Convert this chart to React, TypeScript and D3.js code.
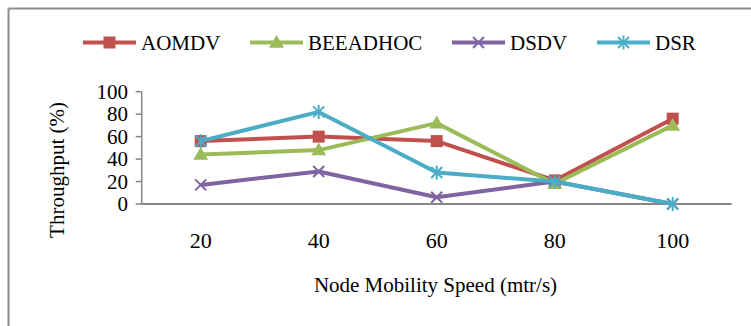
import React from "react";
import * as d3 from "d3";

const categories = ["20", "40", "60", "80", "100"];
const aomdv = [56, 60, 56, 21, 76];
const beeadhoc = [44, 48, 72, 18, 70];
const dsdv = [17, 29, 6, 20, 0];
const dsr = [56, 82, 28, 20, 0];
const yTicks = [0, 20, 40, 60, 80, 100];

const seriesNames = ["AOMDV", "BEEADHOC", "DSDV", "DSR"];
const seriesColors = ["#C0504D", "#9BBB59", "#8064A2", "#4BACC6"];
const seriesMarkers = ["square", "triangle", "x", "star"];
const seriesValues = [aomdv, beeadhoc, dsdv, dsr];

const W = 751;
const H = 326;
const plotLeft = 141.7;
const plotRight = 731.7;
const plotTop = 91.7;
const plotBottom = 204;
const legendX = [83, 250, 452, 597];
const legendY = 42.5;
const FONT = "Liberation Serif";
const AXIS = "#868686";

function Marker({ kind, x, y, color }: { kind: string; x: number; y: number; color: string }) {
  if (kind === "square") {
    return <rect x={x - 6} y={y - 6} width={12} height={12} fill={color} />;
  }
  if (kind === "triangle") {
    const p = d3.symbol().type(d3.symbolTriangle).size(95)();
    return <path d={p || ""} transform={`translate(${x},${y + 1})`} fill={color} />;
  }
  if (kind === "x") {
    const s = 5.5;
    return (
      <g stroke={color} strokeWidth={2}>
        <line x1={x - s} y1={y - s} x2={x + s} y2={y + s} />
        <line x1={x - s} y1={y + s} x2={x + s} y2={y - s} />
      </g>
    );
  }
  const s = 5.5;
  return (
    <g stroke={color} strokeWidth={2}>
      <line x1={x - s} y1={y - s} x2={x + s} y2={y + s} />
      <line x1={x - s} y1={y + s} x2={x + s} y2={y - s} />
      <line x1={x} y1={y - s - 1.5} x2={x} y2={y + s + 1.5} />
    </g>
  );
}

export default function App() {
  const x = d3.scaleBand<string>().domain(categories).range([plotLeft, plotRight]);
  const y = d3.scaleLinear().domain([0, 100]).range([plotBottom, plotTop]);
  const cx = (c: string) => (x(c) || 0) + x.bandwidth() / 2;
  const line = d3
    .line<number>()
    .x((_, i) => cx(categories[i]))
    .y((v) => y(v));

  return (
    <svg
      width={W}
      height={H}
      style={{ position: "absolute", left: 0, top: 0, background: "#fff" }}
    >
      <rect x={0} y={0} width={W} height={H} fill="#fff" />
      {/* frame */}
      <line x1={8.5} y1={8.5} x2={W} y2={8.5} stroke="#8c8c8c" strokeWidth={2} />
      <line x1={8.5} y1={8.5} x2={8.5} y2={H} stroke="#8c8c8c" strokeWidth={2} />

      {/* legend */}
      {seriesNames.map((name, i) => (
        <g key={name}>
          <line
            x1={legendX[i]}
            x2={legendX[i] + 53}
            y1={legendY}
            y2={legendY}
            stroke={seriesColors[i]}
            strokeWidth={4}
          />
          <Marker kind={seriesMarkers[i]} x={legendX[i] + 26.5} y={legendY} color={seriesColors[i]} />
          <text x={legendX[i] + 58} y={legendY + 7.5} fontSize={21} fontFamily={FONT} fill="#000">
            {name}
          </text>
        </g>
      ))}

      {/* y axis */}
      <line x1={plotLeft} x2={plotLeft} y1={plotTop} y2={plotBottom} stroke={AXIS} strokeWidth={1.5} />
      {yTicks.map((t) => (
        <g key={t}>
          <line x1={plotLeft - 6} x2={plotLeft} y1={y(t)} y2={y(t)} stroke={AXIS} strokeWidth={1.5} />
          <text x={128} y={y(t) + 7} fontSize={21} fontFamily={FONT} textAnchor="end" fill="#000">
            {t}
          </text>
        </g>
      ))}
      {/* x axis */}
      <line x1={plotLeft} x2={plotRight} y1={plotBottom} y2={plotBottom} stroke={AXIS} strokeWidth={2} />
      {categories.map((c) => (
        <text key={c} x={cx(c)} y={247.5} fontSize={22} fontFamily={FONT} textAnchor="middle" fill="#000">
          {c}
        </text>
      ))}

      {/* axis titles */}
      <text x={435.5} y={291.5} fontSize={21} fontFamily={FONT} textAnchor="middle" fill="#000">
        Node Mobility Speed (mtr/s)
      </text>
      <text
        transform={`translate(64,170) rotate(-90)`}
        fontSize={21}
        fontFamily={FONT}
        textAnchor="middle"
        fill="#000"
      >
        Throughput (%)
      </text>

      {/* series */}
      {seriesValues.map((vals, i) => (
        <g key={seriesNames[i]}>
          <path d={line(vals) || ""} fill="none" stroke={seriesColors[i]} strokeWidth={4} strokeLinejoin="round" />
          {vals.map((v, j) => (
            <Marker key={j} kind={seriesMarkers[i]} x={cx(categories[j])} y={y(v)} color={seriesColors[i]} />
          ))}
        </g>
      ))}
    </svg>
  );
}
